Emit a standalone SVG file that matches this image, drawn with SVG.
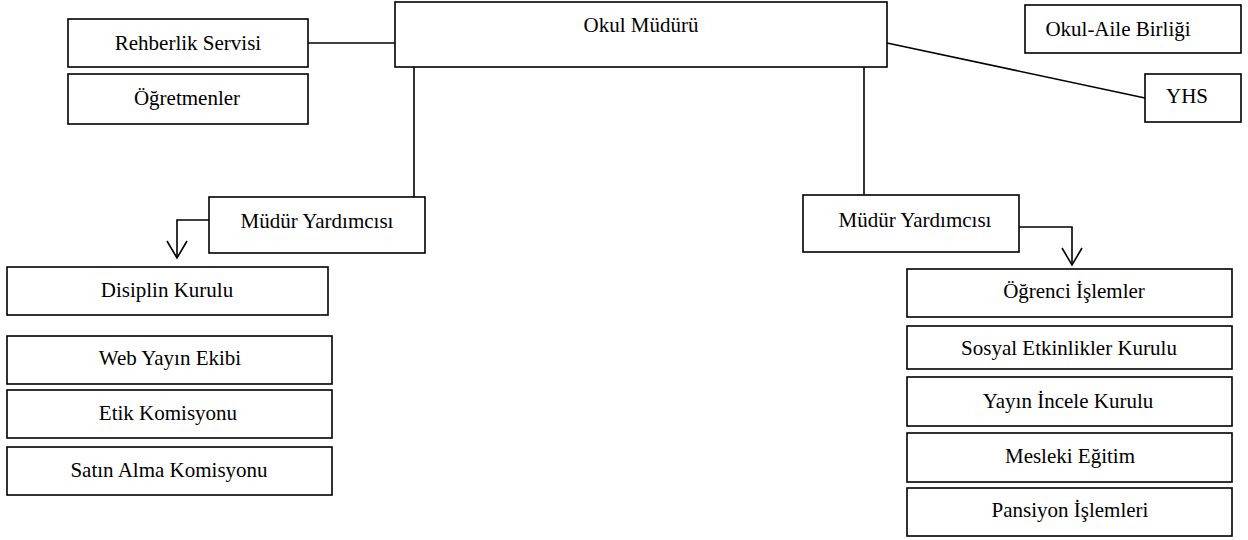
<svg xmlns="http://www.w3.org/2000/svg" width="1248" height="540" viewBox="0 0 1248 540">
<style>
  .box { fill: #ffffff; stroke: #000000; stroke-width: 1.6; }
  .lbl { font-family: "Liberation Serif", "Times New Roman", serif; font-size: 21px; fill: #000000; text-anchor: middle; }
  .con { fill: none; stroke: #000000; stroke-width: 1.6; }
</style>
<defs>
  <marker id="vhead" markerUnits="userSpaceOnUse" viewBox="-20 -12 22 24" markerWidth="22" markerHeight="24" refX="0" refY="0" orient="auto" overflow="visible">
    <path d="M-17,-10 L0,0 L-17,10" fill="none" stroke="#000000" stroke-width="1.6"/>
  </marker>
</defs>
<rect width="1248" height="540" fill="#ffffff"/>
<g id="connectors">
  <line class="con" x1="308" y1="43" x2="395" y2="43"/>
  <line class="con" x1="887" y1="43" x2="1145" y2="98"/>
  <line class="con" x1="414" y1="67" x2="414" y2="197"/>
  <line class="con" x1="864" y1="67" x2="864" y2="195"/>
  <polyline class="con" points="209,220 177,220 177,258" marker-end="url(#vhead)"/>
  <polyline class="con" points="1019,227 1072,227 1072,265" marker-end="url(#vhead)"/>
</g>
<g id="okul-muduru">
  <rect class="box" x="395" y="2" width="492" height="65"/>
  <text class="lbl" x="641" y="32">Okul Müdürü</text>
</g>
<g id="rehberlik">
  <rect class="box" x="68" y="19" width="240" height="48"/>
  <text class="lbl" x="188" y="50">Rehberlik Servisi</text>
</g>
<g id="ogretmenler">
  <rect class="box" x="68" y="74" width="240" height="50"/>
  <text class="lbl" x="187" y="105">Öğretmenler</text>
</g>
<g id="okul-aile">
  <rect class="box" x="1025" y="5" width="216" height="48"/>
  <text class="lbl" x="1118" y="36">Okul-Aile Birliği</text>
</g>
<g id="yhs">
  <rect class="box" x="1145" y="74" width="96" height="48"/>
  <text class="lbl" x="1187" y="103">YHS</text>
</g>
<g id="mudur-yard-sol">
  <rect class="box" x="209" y="197" width="216" height="56"/>
  <text class="lbl" x="317" y="228">Müdür Yardımcısı</text>
</g>
<g id="mudur-yard-sag">
  <rect class="box" x="803" y="195" width="216" height="57"/>
  <text class="lbl" x="915" y="227">Müdür Yardımcısı</text>
</g>
<g id="disiplin">
  <rect class="box" x="7" y="267" width="321" height="48"/>
  <text class="lbl" x="167" y="297">Disiplin Kurulu</text>
</g>
<g id="web-yayin">
  <rect class="box" x="7" y="336" width="325" height="48"/>
  <text class="lbl" x="170" y="365">Web Yayın Ekibi</text>
</g>
<g id="etik">
  <rect class="box" x="7" y="390" width="325" height="48"/>
  <text class="lbl" x="168" y="420">Etik Komisyonu</text>
</g>
<g id="satin-alma">
  <rect class="box" x="7" y="447" width="325" height="48"/>
  <text class="lbl" x="169" y="477">Satın Alma Komisyonu</text>
</g>
<g id="ogrenci">
  <rect class="box" x="907" y="269" width="325" height="48"/>
  <text class="lbl" x="1074" y="298">Öğrenci İşlemler</text>
</g>
<g id="sosyal">
  <rect class="box" x="907" y="326" width="325" height="43"/>
  <text class="lbl" x="1069" y="355">Sosyal Etkinlikler Kurulu</text>
</g>
<g id="yayin-incele">
  <rect class="box" x="907" y="377" width="325" height="49"/>
  <text class="lbl" x="1068" y="408">Yayın İncele Kurulu</text>
</g>
<g id="mesleki">
  <rect class="box" x="907" y="433" width="325" height="49"/>
  <text class="lbl" x="1070" y="463">Mesleki Eğitim</text>
</g>
<g id="pansiyon">
  <rect class="box" x="907" y="488" width="325" height="48"/>
  <text class="lbl" x="1070" y="517">Pansiyon İşlemleri</text>
</g>
</svg>
